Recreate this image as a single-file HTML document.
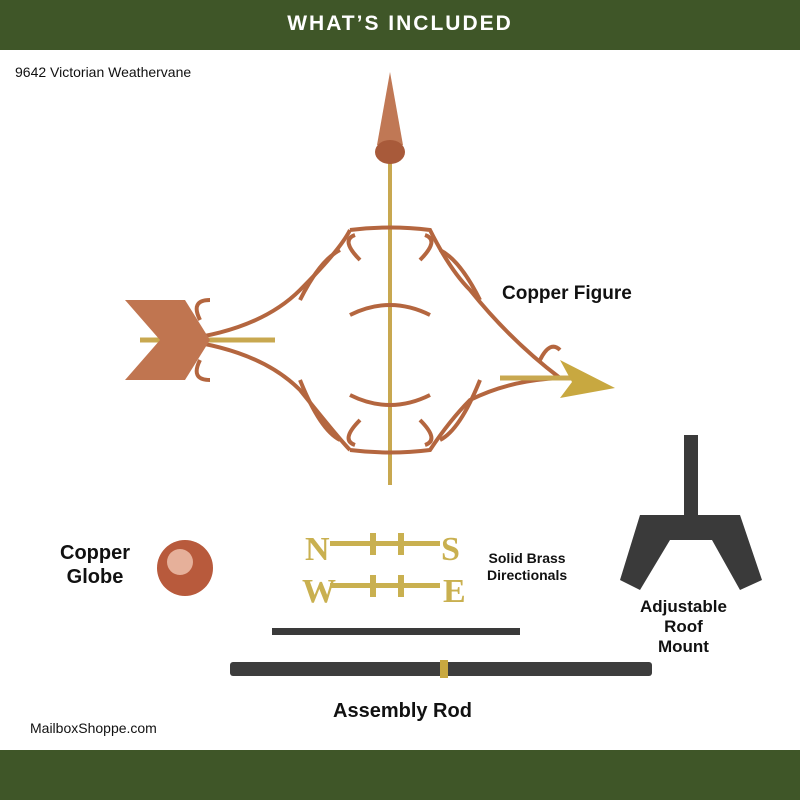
<!DOCTYPE html>
<html><head><meta charset="utf-8"><style>
body{margin:0;width:800px;height:800px;background:#fff;position:relative;overflow:hidden;font-family:"Liberation Sans",sans-serif}
.bar{position:absolute;left:0;width:800px;background:#3f5628}
.t{position:absolute;color:#111;font-weight:bold}
</style></head><body>
<div class="bar" style="top:0;height:50px;color:#fff;text-align:center;font-size:21px;line-height:48px;letter-spacing:2px;font-weight:bold">WHAT’S INCLUDED</div>
<div class="bar" style="top:750px;height:50px"></div>
<div class="t" style="left:15px;top:64px;font-size:14px;font-weight:normal">9642 Victorian Weathervane</div>
<div class="t" style="left:502px;top:283px;font-size:19px">Copper Figure</div>
<div class="t" style="left:60px;top:541px;font-size:20px;text-align:center;line-height:24px">Copper<br>Globe</div>
<div class="t" style="left:487px;top:550px;font-size:14px;text-align:center;line-height:17px">Solid Brass<br>Directionals</div>
<div class="t" style="left:640px;top:597px;font-size:17px;text-align:center;line-height:20px">Adjustable<br>Roof<br>Mount</div>
<div class="t" style="left:333px;top:700px;font-size:20px">Assembly Rod</div>
<div class="t" style="left:30px;top:720px;font-size:14px;font-weight:normal">MailboxShoppe.com</div>
<svg width="800" height="800" style="position:absolute;left:0;top:0">
<g fill="none" stroke="#b4663f" stroke-width="4">
<line x1="390" y1="160" x2="390" y2="485" stroke="#c8a850" stroke-width="4"/>
<path d="M180 340 Q260 330 300 290 Q340 250 350 230 M350 230 Q390 225 430 230 Q450 270 470 290 Q510 340 560 378"/>
<path d="M180 340 Q260 350 300 390 Q340 440 350 450 M350 450 Q390 455 430 450 Q450 420 470 400 Q510 380 560 378"/>
<path d="M300 300 Q320 260 340 250 M440 250 Q460 260 480 300 M300 380 Q320 430 340 440 M440 440 Q460 430 480 380"/>
<path d="M360 260 q-20 -20 -5 -25 M420 260 q20 -20 5 -25 M360 420 q-20 20 -5 25 M420 420 q20 20 5 25"/>
<path d="M350 315 q40 -20 80 0 M350 395 q40 20 80 0"/>
<path d="M200 320 q-10 -20 10 -20 M200 360 q-10 20 10 20 M540 360 q10 -20 20 -10"/>
</g>
<line x1="140" y1="340" x2="275" y2="340" stroke="#c8a850" stroke-width="5"/>
<polygon points="125,300 185,300 210,340 185,380 125,380 160,340" fill="#c07550"/>
<line x1="500" y1="378" x2="580" y2="378" stroke="#c8a850" stroke-width="5"/>
<polygon points="560,360 615,388 560,398 572,382" fill="#c8a840"/>
<polygon points="390,72 403,145 377,145" fill="#c07855"/>
<ellipse cx="390" cy="152" rx="15" ry="12" fill="#a85a3a"/>
<circle cx="185" cy="568" r="28" fill="#b85a3c"/><circle cx="180" cy="562" r="13" fill="#e6b09a"/>
<g fill="#c9b050" font-family="Liberation Serif,serif" font-weight="bold" font-size="34">
<rect x="330" y="541" width="110" height="5"/><rect x="330" y="583" width="110" height="5"/>
<rect x="370" y="533" width="6" height="22"/><rect x="398" y="533" width="6" height="22"/>
<rect x="370" y="575" width="6" height="22"/><rect x="398" y="575" width="6" height="22"/>
<text x="305" y="560">N</text><text x="441" y="560">S</text>
<text x="302" y="602">W</text><text x="443" y="602">E</text></g>
<g fill="#3a3a3a"><rect x="684" y="435" width="14" height="85"/><polygon points="640,515 740,515 762,580 740,590 712,540 670,540 640,590 620,580"/></g>
<rect x="272" y="628" width="248" height="7" fill="#3a3a3a"/>
<rect x="230" y="662" width="422" height="14" rx="3" fill="#3d3d3d"/>
<rect x="440" y="660" width="8" height="18" fill="#c8a840"/>
</svg>
</body></html>
